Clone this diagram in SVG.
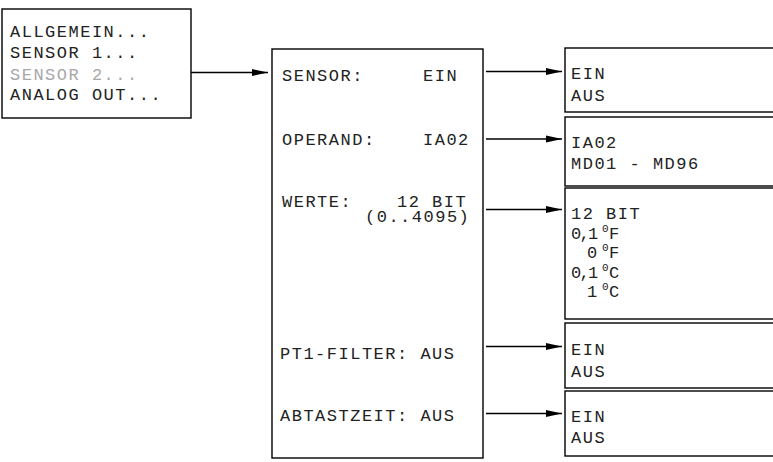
<svg xmlns="http://www.w3.org/2000/svg" width="773" height="462" viewBox="0 0 773 462">
  <style>
    .box { fill: #ffffff; stroke: #000000; stroke-width: 1.4; }
    .lcd { font-family: "Liberation Mono", "DejaVu Sans Mono", monospace; font-size: 17px; letter-spacing: 1.5px; fill: #222222; }
    .dim { fill: #a8a8a8; }
    .tight { letter-spacing: -1.7px; }
    .sup { font-size: 11px; letter-spacing: 0; }
    .wire { stroke: #000000; stroke-width: 1.3; fill: none; }
  </style>
  <defs>
    <marker id="head" viewBox="0 0 16 8" refX="16" refY="4" markerWidth="16" markerHeight="8" markerUnits="userSpaceOnUse" orient="auto">
      <path d="M0,0.5 L16,4 L0,7.5 Z" fill="#000000"/>
    </marker>
  </defs>

  <rect width="773" height="462" fill="#ffffff"/>

  <!-- menu -->
  <g id="menu">
    <rect class="box" x="2" y="9" width="189" height="109"/>
    <text class="lcd" x="10" y="37">ALLGEMEIN...</text>
    <text class="lcd" x="10" y="58">SENSOR 1...</text>
    <text class="lcd dim" x="10" y="80">SENSOR 2...</text>
    <text class="lcd" x="10" y="100">ANALOG OUT...</text>
  </g>

  <!-- sensor settings -->
  <g id="sensor-settings">
    <rect class="box" x="272" y="49" width="211" height="409"/>
    <text class="lcd" x="282" y="81">SENSOR:</text>
    <text class="lcd" x="423" y="81">EIN</text>
    <text class="lcd" x="282" y="145">OPERAND:</text>
    <text class="lcd" x="423" y="145">IA02</text>
    <text class="lcd" x="282" y="207">WERTE:</text>
    <text class="lcd" x="397" y="207">12 BIT</text>
    <text class="lcd" x="365" y="222">(0..4095)</text>
    <text class="lcd" x="280" y="359">PT1-FILTER: AUS</text>
    <text class="lcd" x="280" y="421">ABTASTZEIT: AUS</text>
  </g>

  <!-- option lists -->
  <g id="opt-sensor">
    <rect class="box" x="565" y="48" width="215" height="64"/>
    <text class="lcd" x="571" y="79">EIN</text>
    <text class="lcd" x="571" y="101">AUS</text>
  </g>
  <g id="opt-operand">
    <rect class="box" x="565" y="117" width="215" height="69"/>
    <text class="lcd" x="571" y="148">IA02</text>
    <text class="lcd" x="571" y="169">MD01 - MD96</text>
  </g>
  <g id="opt-werte">
    <rect class="box" x="565" y="188" width="215" height="131"/>
    <text class="lcd" x="571" y="219">12 BIT</text>
    <!-- 0,1 °F -->
    <text class="lcd tight" x="571" y="239">0,1</text>
    <text class="lcd sup" x="602" y="232">0</text>
    <text class="lcd" x="609" y="239">F</text>
    <!-- 0 °F -->
    <text class="lcd" x="587" y="258">0</text>
    <text class="lcd sup" x="602" y="251">0</text>
    <text class="lcd" x="609" y="258">F</text>
    <!-- 0,1 °C -->
    <text class="lcd tight" x="571" y="278">0,1</text>
    <text class="lcd sup" x="602" y="271">0</text>
    <text class="lcd" x="609" y="278">C</text>
    <!-- 1 °C -->
    <text class="lcd" x="587" y="297">1</text>
    <text class="lcd sup" x="602" y="290">0</text>
    <text class="lcd" x="609" y="297">C</text>
  </g>
  <g id="opt-filter">
    <rect class="box" x="565" y="323" width="215" height="65"/>
    <text class="lcd" x="571" y="355">EIN</text>
    <text class="lcd" x="571" y="377">AUS</text>
  </g>
  <g id="opt-abtast">
    <rect class="box" x="565" y="391" width="215" height="65"/>
    <text class="lcd" x="571" y="422">EIN</text>
    <text class="lcd" x="571" y="443">AUS</text>
  </g>

  <!-- connectors -->
  <g id="connectors">
    <line class="wire" x1="191" y1="72.5" x2="268" y2="72.5" marker-end="url(#head)"/>
    <line class="wire" x1="486" y1="71.5" x2="562" y2="71.5" marker-end="url(#head)"/>
    <line class="wire" x1="486" y1="139" x2="562" y2="139" marker-end="url(#head)"/>
    <line class="wire" x1="486" y1="209.5" x2="562" y2="209.5" marker-end="url(#head)"/>
    <line class="wire" x1="486" y1="346.5" x2="562" y2="346.5" marker-end="url(#head)"/>
    <line class="wire" x1="486" y1="413.5" x2="562" y2="413.5" marker-end="url(#head)"/>
  </g>
</svg>
